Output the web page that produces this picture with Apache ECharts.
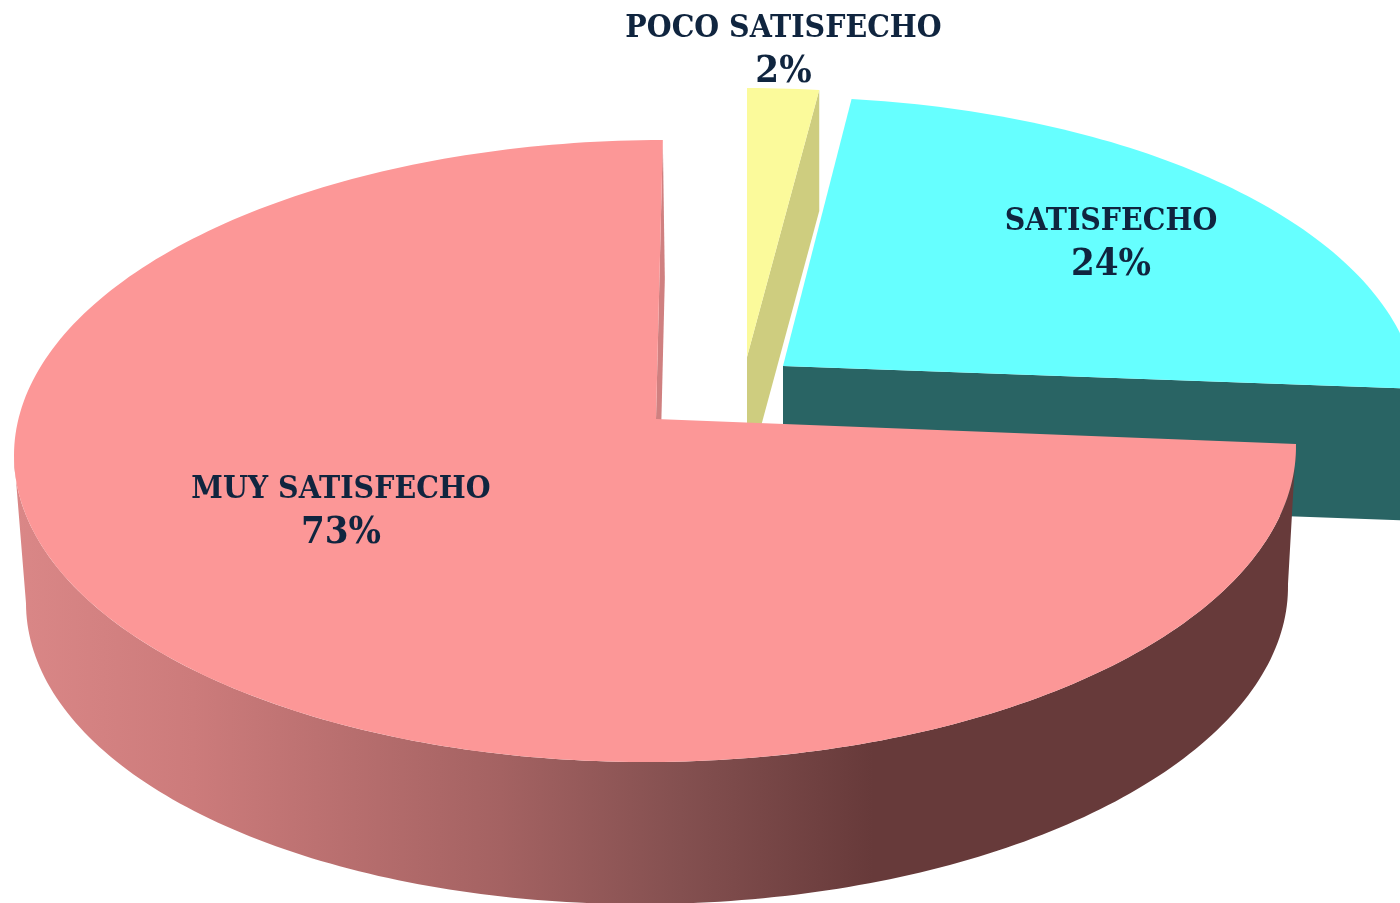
<!DOCTYPE html>
<html>
<head>
<meta charset="utf-8">
<style>html,body{margin:0;padding:0;background:#fff}#c{width:1400px;height:903px}</style>
<script src="https://cdn.jsdelivr.net/npm/echarts@6/dist/echarts.min.js"></script>
</head>
<body>
<div id="c"></div>
<script>
const categories = ['MUY SATISFECHO', 'SATISFECHO', 'POCO SATISFECHO'];
const shares = [73, 24, 2];

// Drawing-only settings for the tilted 3D pie, one per slice.
const geometry = [
  {cx:655, cy:451, rx:641, ry:311, shear:-0.007, start:-89.3, dir:-1, warp:1.0215, ax:656, ay:419, depth:139, bx:657, by:595, brx:631, bry:309, bshear:-0.013, top:'#FC9797', side:null, z:30, lx:341, ly:487},
  {cx:778, cy:406, rx:640, ry:309, shear:0, start:-83.4, dir:1, warp:0.919, ax:783, ay:366, depth:132, top:'#66FFFF', side:'#296464', z:20, lx:1111, ly:219},
  {cx:747, cy:389, rx:620, ry:301, shear:0, start:-90, dir:1, warp:0.92, ax:747, ay:357, depth:121, top:'#FBFA9B', side:'#CECD7F', z:10, lx:783.5, ly:26}
];
const textColor = '#10253F';
const textFont = '"DejaVu Serif Condensed","DejaVu Serif",serif';
const total = shares.reduce((a, b) => a + b, 0);

const rim = (cx, cy, rx, ry, shear, deg) => {
  const t = deg * Math.PI / 180;
  const dx = rx * Math.cos(t);
  return [cx + dx, cy + ry * Math.sin(t) + shear * dx];
};
const arc = (cx, cy, rx, ry, shear, a, b) => {
  const n = Math.max(2, Math.ceil(Math.abs(b - a)));
  const pts = [];
  for (let i = 0; i <= n; i++) pts.push(rim(cx, cy, rx, ry, shear, a + (b - a) * i / n));
  return pts;
};

function renderItem(params, api) {
  const i = params.dataIndex;
  const g = geometry[i];
  const sweep = api.value(0) / total * 360 * g.warp * g.dir;
  const end = g.start + sweep;
  const topPts = [[g.ax, g.ay]].concat(arc(g.cx, g.cy, g.rx, g.ry, g.shear, g.start, end));
  const children = [];
  if (i === 0) {
    // outer rounded side (front half of the disc: right edge, through the bottom, to the left edge)
    const leftEnd = -180;
    const frontA = arc(g.cx, g.cy, g.rx, g.ry, g.shear, end, leftEnd);
    const frontB = arc(g.bx, g.by, g.brx, g.bry, g.bshear, end, leftEnd).reverse();
    children.push({
      type: 'polygon', z2: g.z,
      shape: {points: frontA.concat(frontB)},
      style: {fill: {
        type: 'linear', global: true, x: 14, y: 0, x2: 1296, y2: 0,
        colorStops: [
          {offset: 0, color: '#DA8787'}, {offset: 0.14, color: '#CC7B7B'},
          {offset: 0.38, color: '#A46262'}, {offset: 0.52, color: '#845050'},
          {offset: 0.67, color: '#673A3A'}, {offset: 1, color: '#673A3A'}
        ]
      }}
    });
    // inner cut wall sliver
    const r0 = rim(g.cx, g.cy, g.rx, g.ry, g.shear, g.start);
    children.push({
      type: 'polygon', z2: g.z - 1,
      shape: {points: [r0, [r0[0] + 2, r0[1] + g.depth], [g.ax + 2, g.ay + g.depth], [g.ax, g.ay]]},
      style: {fill: '#D08080'}
    });
  } else {
    const r1 = rim(g.cx, g.cy, g.rx, g.ry, g.shear, end);
    children.push({
      type: 'polygon', z2: g.z,
      shape: {points: [[g.ax, g.ay], r1, [r1[0], r1[1] + g.depth], [g.ax, g.ay + g.depth]]},
      style: {fill: g.side}
    });
  }
  children.push({
    type: 'polygon', z2: g.z + 1,
    shape: {points: topPts},
    style: {fill: g.top}
  });
  children.push({
    type: 'text', z2: 100, x: g.lx, y: g.ly - 19,
    style: {
      text: '{n|' + categories[i] + '}\n{p|' + api.value(0) + '%}',
      fill: textColor, font: 'bold 32px ' + textFont,
      align: 'center', verticalAlign: 'top',
      rich: {
        n: {font: 'bold 31.7px ' + textFont, fill: textColor, lineHeight: 44, align: 'center'},
        p: {font: 'bold 38px ' + textFont, fill: textColor, lineHeight: 42, align: 'center'}
      }
    }
  });
  return {type: 'group', children};
}

const chart = echarts.init(document.getElementById('c'), null, {renderer: 'canvas'});
chart.setOption({
  animation: false,
  backgroundColor: '#ffffff',
  tooltip: {show: false},
  series: [{
    type: 'custom',
    coordinateSystem: 'none',
    renderItem,
    silent: true,
    clip: false,
    data: shares.map(v => [v])
  }]
});
</script>
</body>
</html>
